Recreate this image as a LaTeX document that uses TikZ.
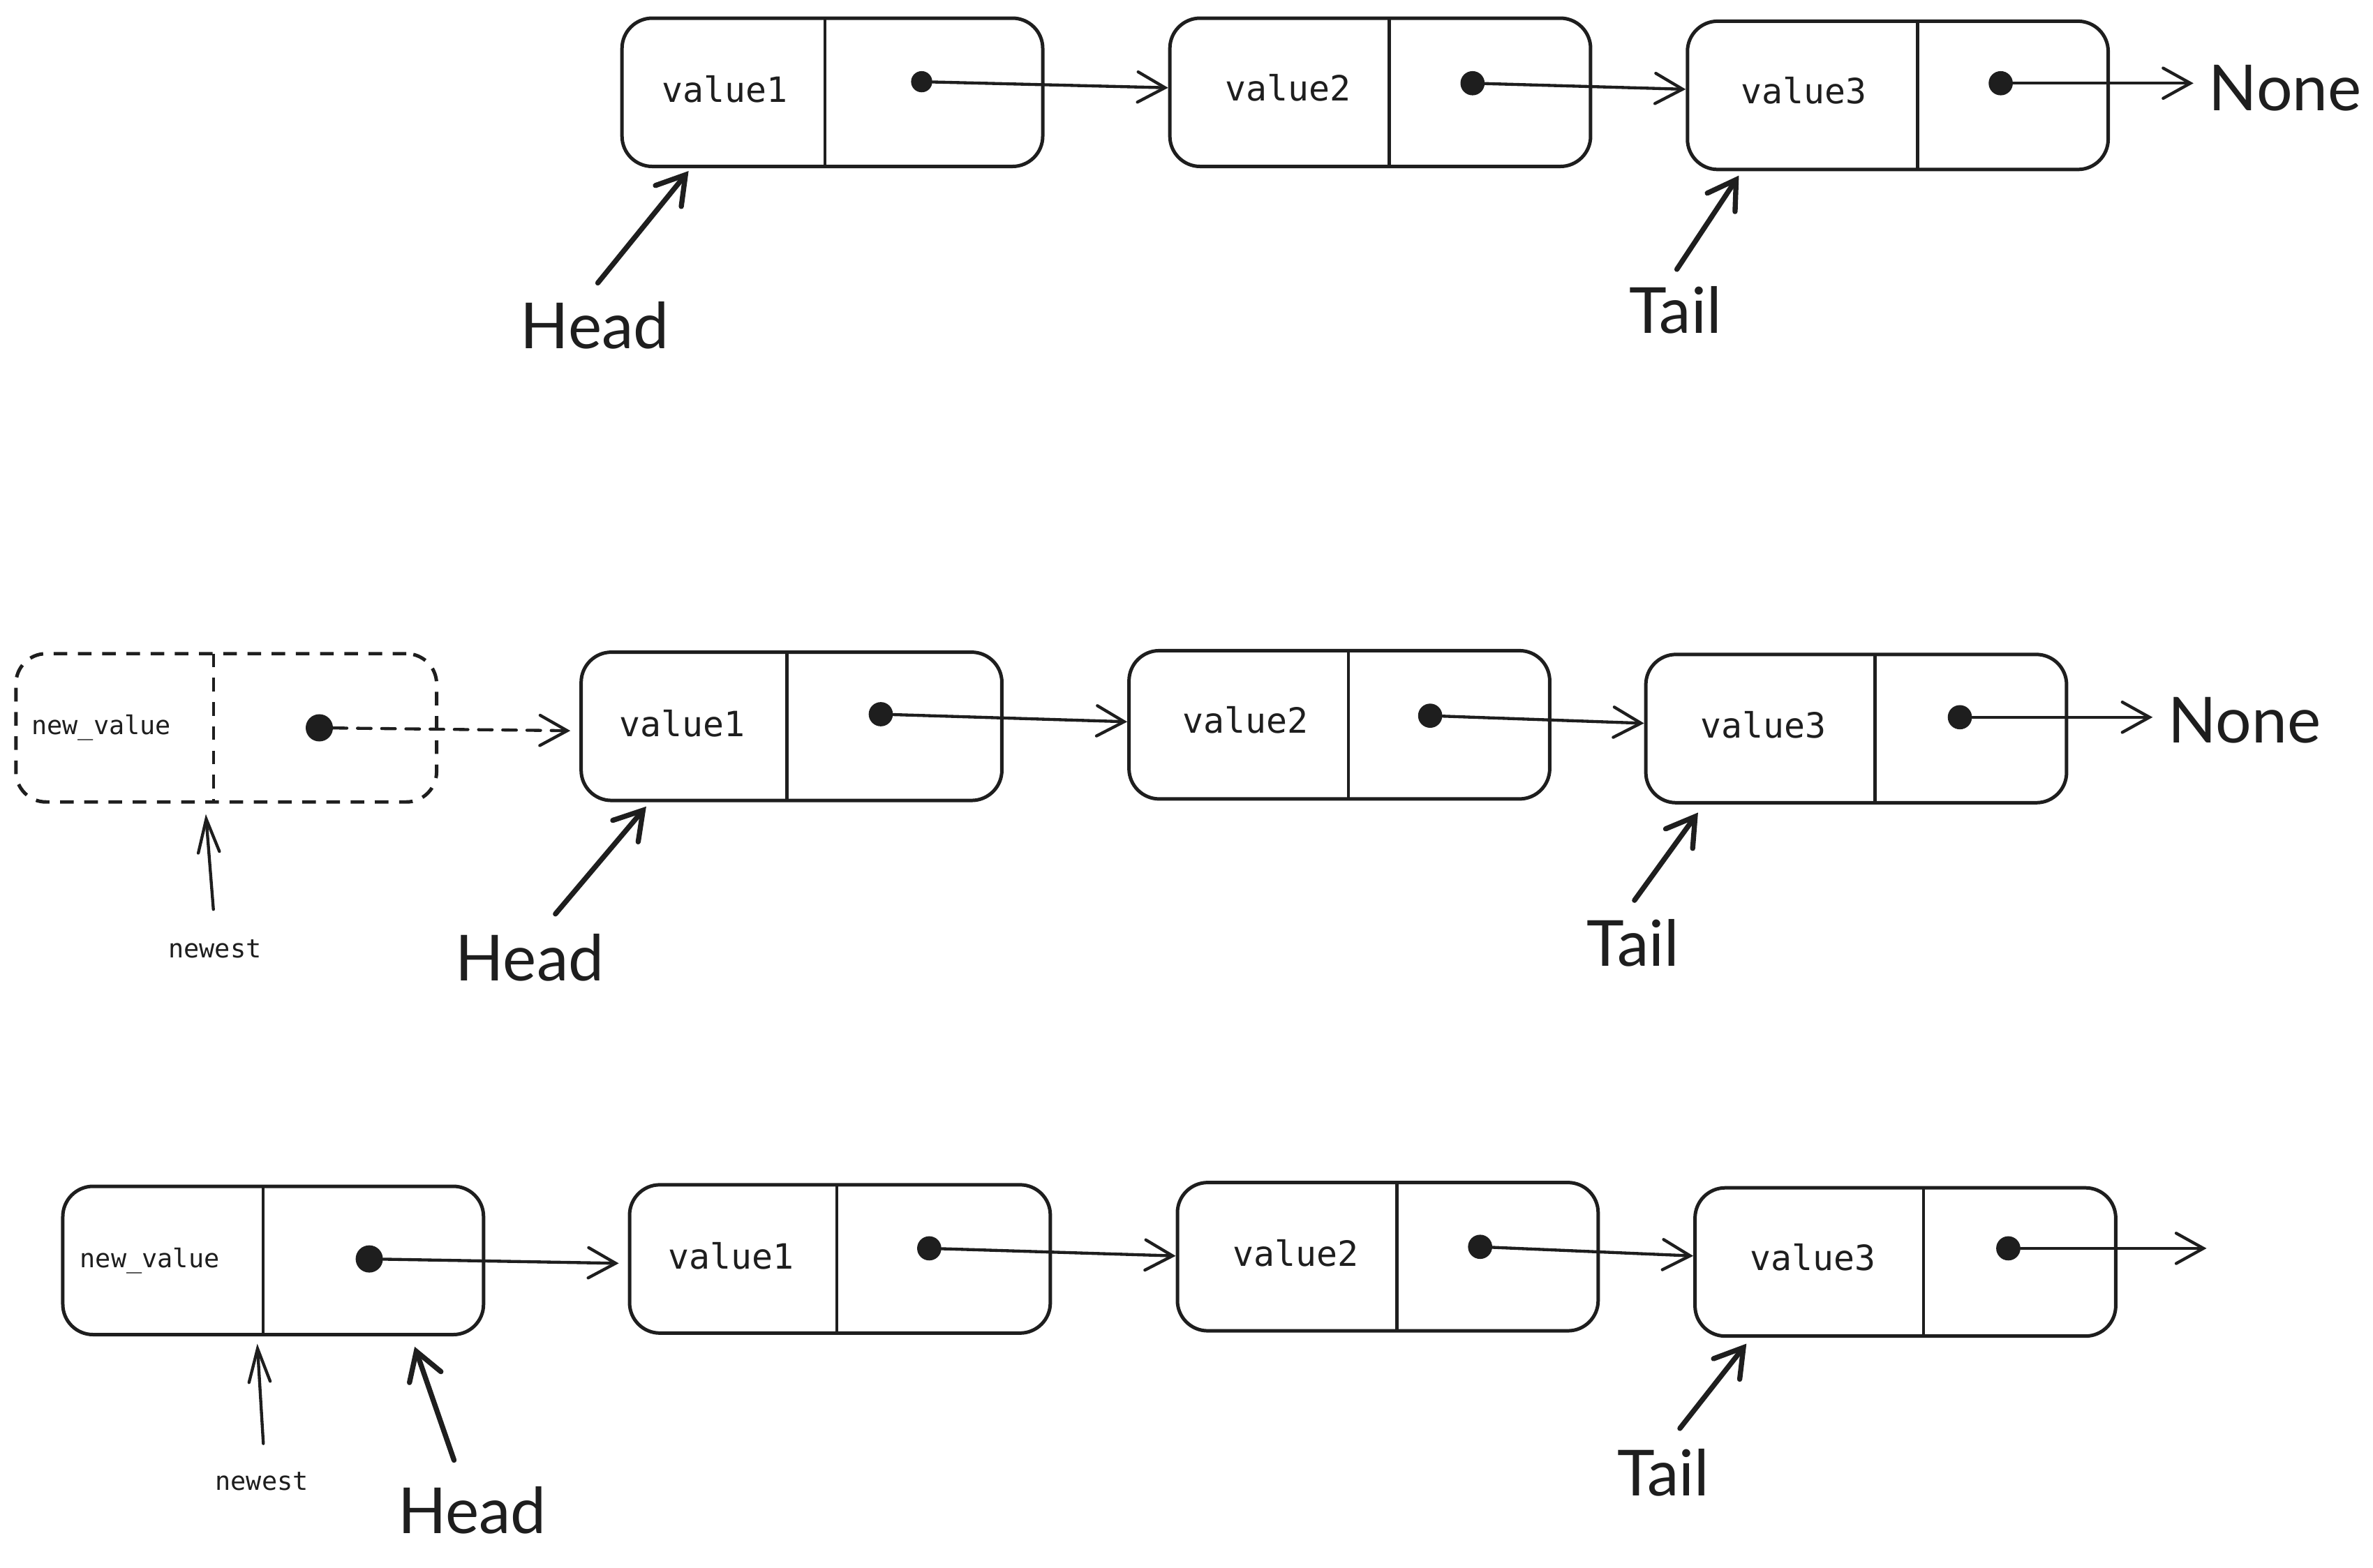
\documentclass[tikz,border=0pt]{standalone}
\usepackage{fontspec}
\newfontfamily\codefont{DejaVu Sans Mono}
\newfontfamily\handfont{Lato}
\usetikzlibrary{arrows.meta}
\definecolor{ink}{HTML}{1E1E1E}
\tikzset{
  llbox/.style={draw=ink, line width=2.3pt, rounded corners=20pt, minimum width=278pt, minimum height=98pt, inner sep=0pt},
  dashbox/.style={llbox, dash pattern=on 9pt off 7pt},
  divline/.style={draw=ink, line width=2pt},
  valtext/.style={font=\codefont\fontsize{23}{23}\selectfont, inner sep=0pt, text=ink},
  smalltext/.style={font=\codefont\fontsize{17}{17}\selectfont, inner sep=0pt, text=ink},
  handtext/.style={font=\handfont\fontsize{42}{42}\selectfont, inner sep=0pt, text=ink},
  ptr/.style={circle, fill=ink, inner sep=0pt, minimum size=16pt},
  link/.style={draw=ink, line width=2pt, line cap=round, -{Straight Barb[length=18pt,width=20pt,line cap=round]}},
  dlink/.style={link, dash pattern=on 9pt off 7pt},
  thinptr/.style={draw=ink, line width=2pt, line cap=round, -{Straight Barb[length=22pt,width=14pt,line cap=round]}},
  boldptr/.style={draw=ink, line width=3.4pt, line cap=round, -{Straight Barb[length=18pt,width=22pt,line cap=round]}}
}
\begin{document}
\begin{tikzpicture}[x=1pt,y=-1pt]
\useasboundingbox (0,0) rectangle (1568,1036);

% ---------------- Row 1 ----------------
\node[llbox] (A1) at (550,61) {};
\node[llbox] (A2) at (912,61) {};
\node[llbox] (A3) at (1254,63) {};
\draw[divline] (545,12) -- (545,110);
\draw[divline] (918,12) -- (918,109);
\draw[divline] (1267,14) -- (1267,112);
\node[valtext] (tA1) at (479,59) {value1};
\node[valtext] (tA2) at (851,58) {value2};
\node[valtext] (tA3) at (1192,60) {value3};
\node[ptr, minimum size=14pt] (dA1) at (609,54) {};
\node[ptr] (dA2) at (973,55) {};
\node[ptr] (dA3) at (1322,55) {};
\node[handtext] (NoneA) at (1510,58) {None};
\draw[link] (dA1) -- ([yshift=-4pt]dA1 -| A2.west);
\draw[link] (dA2) -- ([yshift=-4pt]dA2 -| A3.west);
\draw[link] (dA3) -- ([xshift=-10pt]dA3 -| NoneA.west);
\node[handtext] (HeadA) at (393,215) {Head};
\node[handtext] (TailA) at (1107,205) {Tail};
\coordinate (hA1) at (395,187);
\coordinate (hA2) at (455,113);
\coordinate (tA1c) at (1108,178);
\coordinate (tA2c) at (1149,116);
\draw[boldptr] (hA1) -- (hA2);
\draw[boldptr] (tA1c) -- (tA2c);

% ---------------- Row 2 ----------------
\node[dashbox] (N) at (149.5,481) {};
\draw[divline, dash pattern=on 9pt off 7pt] (141,432) -- (141,530);
\node[smalltext] (tN) at (67,481) {new\_value};
\node[ptr, minimum size=18pt] (dN) at (211,481) {};
\node[llbox] (B1) at (523,480) {};
\node[llbox] (B2) at (885,479) {};
\node[llbox] (B3) at (1226.5,481.5) {};
\draw[divline] (520,431) -- (520,529);
\draw[divline] (891,430) -- (891,528);
\draw[divline] (1239,432) -- (1239,531);
\node[valtext] (tB1) at (451,478) {value1};
\node[valtext] (tB2) at (823,476) {value2};
\node[valtext] (tB3) at (1165,479) {value3};
\node[ptr] (dB1) at (582,472) {};
\node[ptr] (dB2) at (945,473) {};
\node[ptr] (dB3) at (1295,474) {};
\node[handtext] (NoneB) at (1483,476) {None};
\draw[dlink, shorten >=6pt] (dN) -- ([yshift=-2pt]dN -| B1.west);
\draw[link] (dB1) -- ([yshift=-5pt]dB1 -| B2.west);
\draw[link] (dB2) -- ([yshift=-5pt]dB2 -| B3.west);
\draw[link] (dB3) -- ([xshift=-10pt]dB3 -| NoneB.west);
\node[smalltext] (newB) at (142,627) {newest};
\coordinate (nB1) at (141,601);
\coordinate (nB2) at (136,538);
\draw[thinptr] (nB1) -- (nB2);
\node[handtext] (HeadB) at (350,633) {Head};
\node[handtext] (TailB) at (1079,623) {Tail};
\coordinate (hB1) at (367,604);
\coordinate (hB2) at (427,533);
\coordinate (tB1c) at (1080,595);
\coordinate (tB2c) at (1122,537);
\draw[boldptr] (hB1) -- (hB2);
\draw[boldptr] (tB1c) -- (tB2c);

% ---------------- Row 3 ----------------
\node[llbox] (C0) at (180.5,833) {};
\node[llbox] (C1) at (555,832) {};
\node[llbox] (C2) at (917,830.5) {};
\node[llbox] (C3) at (1259,834) {};
\draw[divline] (174,784) -- (174,882);
\draw[divline] (553,783) -- (553,881);
\draw[divline] (923,781) -- (923,880);
\draw[divline] (1271,785) -- (1271,883);
\node[smalltext] (tC0) at (99,833) {new\_value};
\node[valtext] (tC1) at (483,830) {value1};
\node[valtext] (tC2) at (856,828) {value2};
\node[valtext] (tC3) at (1198,831) {value3};
\node[ptr, minimum size=18pt] (dC0) at (244,832) {};
\node[ptr] (dC1) at (614,825) {};
\node[ptr] (dC2) at (978,824) {};
\node[ptr] (dC3) at (1327,825) {};
\coordinate (endC) at (1458,825);
\draw[link, shorten >=6pt] (dC0) -- ([yshift=-3pt]dC0 -| C1.west);
\draw[link] (dC1) -- ([yshift=-5pt]dC1 -| C2.west);
\draw[link] (dC2) -- ([yshift=-6pt]dC2 -| C3.west);
\draw[link] (dC3) -- (endC);
\node[smalltext] (newC) at (173,979) {newest};
\coordinate (nC1) at (174,954);
\coordinate (nC2) at (170,888);
\draw[thinptr] (nC1) -- (nC2);
\node[handtext] (HeadC) at (312,998) {Head};
\coordinate (hC1) at (300,965);
\coordinate (hC2) at (274,890);
\draw[boldptr] (hC1) -- (hC2);
\node[handtext] (TailC) at (1099,973) {Tail};
\coordinate (tC1c) at (1110,944);
\coordinate (tC2c) at (1154,888);
\draw[boldptr] (tC1c) -- (tC2c);
\end{tikzpicture}
\end{document}
